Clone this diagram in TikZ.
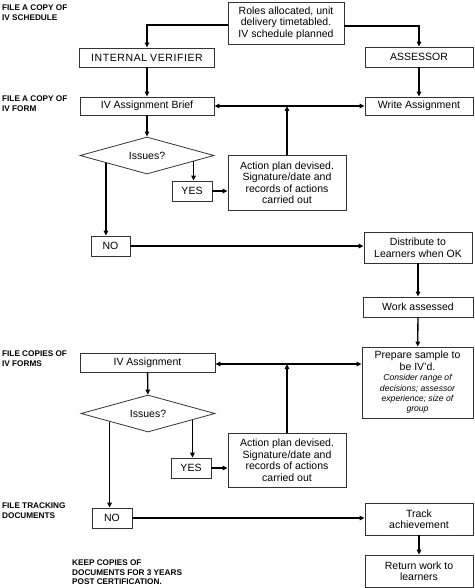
\documentclass[tikz,border=0pt]{standalone}
\usepackage{fontspec}
\setmainfont{Liberation Sans}
\usetikzlibrary{arrows.meta,shapes.geometric,calc}
\newcommand{\smallit}[1]{{\fontsize{8.6}{10}\selectfont\itshape #1}}
\tikzset{
  box/.style={draw=black!80, line width=0.8pt, fill=white, inner sep=1pt, align=center, font=\fontsize{10.5}{11.5}\selectfont},
  dia/.style={draw=black!80, line width=0.8pt, shape=diamond, aspect=3.6, inner sep=0pt, minimum width=134pt, minimum height=37pt, font=\fontsize{10.5}{11.5}\selectfont},
  lab/.style={anchor=north west, align=left, inner sep=0pt, font=\fontsize{8.2}{9.2}\selectfont\bfseries},
  conn/.style={line width=1.3pt, -{Triangle[length=5pt,width=4.5pt]}},
  both/.style={line width=1.3pt, {Triangle[length=5pt,width=4.5pt]}-{Triangle[length=5pt,width=4.5pt]}}
}
\begin{document}
\begin{tikzpicture}[x=1pt,y=-1pt]
\useasboundingbox (0,0) rectangle (474,588);
% nodes
\node[box, minimum width=116pt, minimum height=42pt] (roles) at (286,23) {Roles allocated, unit\\delivery timetabled.\\IV schedule planned};
\node[box, minimum width=135pt, minimum height=19pt] (iv) at (147,57.5) {I\kern0.6pt N\kern0.6pt T\kern0.6pt E\kern0.6pt R\kern0.6pt N\kern0.6pt A\kern0.6pt L\ V\kern0.6pt E\kern0.6pt R\kern0.6pt I\kern0.6pt F\kern0.6pt I\kern0.6pt E\kern0.6pt R};
\node[box, minimum width=108pt, minimum height=20pt] (assessor) at (419,57) {ASSESSOR};
\node[box, minimum width=134pt, minimum height=18pt] (brief) at (147,106) {IV Assignment Brief};
\node[box, minimum width=108pt, minimum height=18pt] (write) at (419,106) {Write Assignment};
\node[dia] (dia1) at (147,155.5) {Issues?};
\node[box, minimum width=40pt, minimum height=20pt] (yes1) at (192,191) {YES};
\node[box, minimum width=118pt, minimum height=55pt] (action1) at (287,182.5) {Action plan devised.\\Signature/date and\\records of actions\\carried out};
\node[box, minimum width=39pt, minimum height=20pt] (no1) at (110.5,246) {NO};
\node[box, minimum width=108pt, minimum height=31pt] (distribute) at (418,247.5) {Distribute to\\Learners when OK};
\node[box, minimum width=110pt, minimum height=20pt] (work) at (418,307) {Work assessed};
\node[box, minimum width=111pt, minimum height=71pt] (prepare) at (417.5,382.5) {Prepare sample to\\be IV'd.\\[-1pt]\smallit{Consider range of}\\[-1.2pt]\smallit{decisions; assessor}\\[-1.2pt]\smallit{experience; size of}\\[-1.2pt]\smallit{group}};
\node[box, minimum width=135pt, minimum height=19pt] (iva) at (147.5,362.5) {IV Assignment};
\node[dia] (dia2) at (148,413.5) {Issues?};
\node[box, minimum width=40pt, minimum height=20pt] (yes2) at (191,468) {YES};
\node[box, minimum width=118pt, minimum height=54pt] (action2) at (287,460) {Action plan devised.\\Signature/date and\\records of actions\\carried out};
\node[box, minimum width=40pt, minimum height=20pt] (no2) at (112,518) {NO};
\node[box, minimum width=108pt, minimum height=32pt] (track) at (419,519) {Track\\achievement};
\node[box, minimum width=108pt, minimum height=32pt] (return) at (419,571) {Return work to\\learners};
% left labels
\node[lab] (l1) at (2,5) {FILE A COPY OF\\IV SCHEDULE};
\node[lab] (l2) at (2,96) {FILE A COPY OF\\IV FORM};
\node[lab] (l3) at (2,351) {FILE COPIES OF\\IV FORMS};
\node[lab] (l4) at (2,503) {FILE TRACKING\\DOCUMENTS};
\node[lab] (keep) at (72,560) {KEEP COPIES OF\\DOCUMENTS FOR 3 YEARS\\POST CERTIFICATION.};
% connectors
\draw[conn] ([yshift=-2pt]roles.west) -| (iv.north);
\draw[conn] ([yshift=-3pt]roles.east) -| (assessor.north);
\draw[conn] (iv) -- (brief);
\draw[conn] (assessor) -- (write);
\draw[both] (brief.east) -- (write.west);
\draw[conn] (action1.north) -- (action1.north |- brief.east);
\draw[conn] (brief) -- (dia1);
\coordinate (d1l) at ($(dia1.west)!0.39!(dia1.south)$);
\coordinate (d1r) at ($(dia1.east)!0.31!(dia1.south)$);
\draw[conn] (d1l) -- (d1l |- no1.north);
\draw[conn] (d1r) -- (d1r |- yes1.north);
\draw[conn] (yes1.east) -- (yes1.east -| action1.west);
\draw[conn] (no1.east) -- (no1.east -| distribute.west);
\draw[conn] (distribute) -- (work);
\draw[conn] (work) -- (prepare);
\coordinate (m2) at ([yshift=-1.5pt]iva.east);
\draw[both] (m2) -- (m2 -| prepare.west);
\draw[conn] (action2.north) -- (action2.north |- m2);
\draw[conn] (iva) -- (dia2);
\coordinate (d2l) at ($(dia2.west)!0.43!(dia2.south)$);
\coordinate (d2r) at ($(dia2.east)!0.34!(dia2.south)$);
\draw[conn] (d2l) -- (d2l |- no2.north);
\draw[conn] (d2r) -- (d2r |- yes2.north);
\draw[conn] (yes2.east) -- (yes2.east -| action2.west);
\draw[conn] (no2.east) -- (no2.east -| track.west);
\draw[conn] (track) -- (return);
\end{tikzpicture}
\end{document}
